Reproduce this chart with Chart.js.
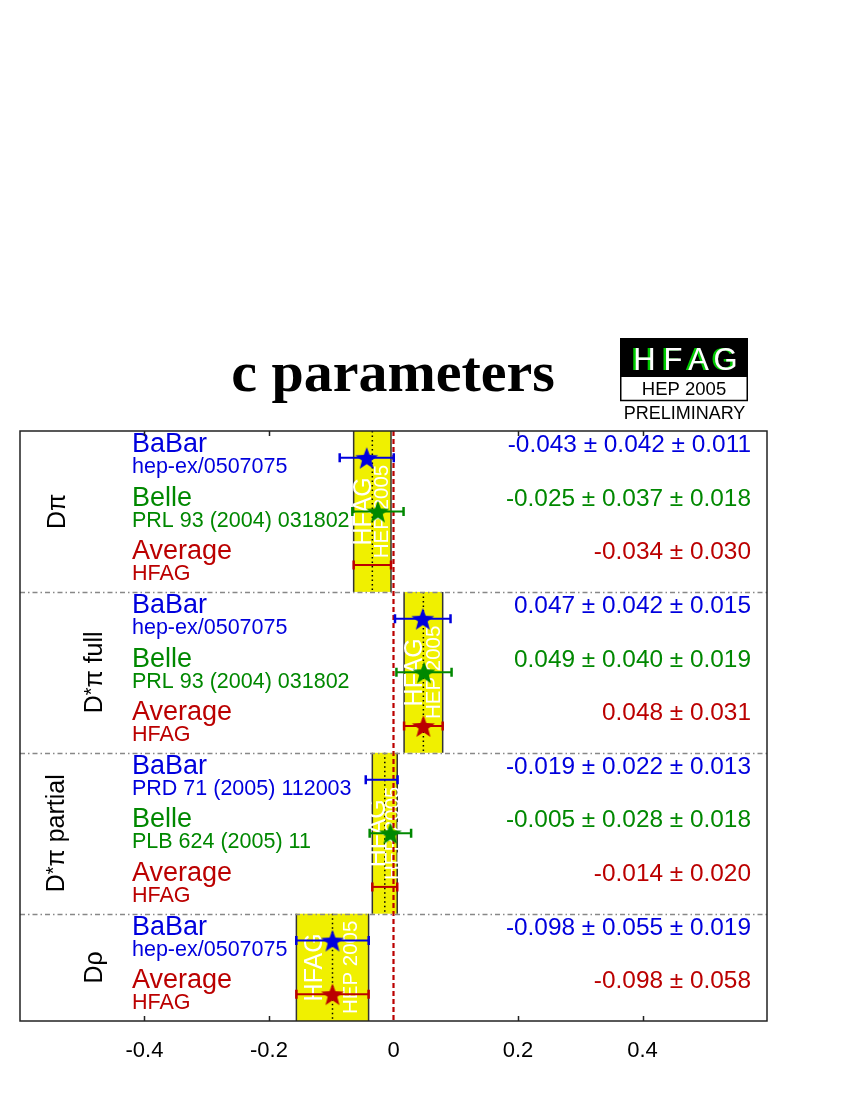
<!DOCTYPE html>
<html>
<head>
<meta charset="utf-8">
<script src="https://cdn.jsdelivr.net/npm/chart.js@4.4.1/dist/chart.umd.min.js"></script>
<style>
html,body{margin:0;padding:0;background:#fff;}
canvas{display:block;}
</style>
</head>
<body>
<canvas id="c" width="850" height="1100" style="width:850px;height:1100px"></canvas>
<script>
// ---------------- data ----------------
const sectionNames = ['Dπ', 'D*π full', 'D*π partial', 'Dρ'];
const sectionRows = [3, 3, 3, 2];
const rowLabels = ['BaBar', 'Belle', 'Average', 'BaBar', 'Belle', 'Average', 'BaBar', 'Belle', 'Average', 'BaBar', 'Average'];
const rowRefs = ['hep-ex/0507075', 'PRL 93 (2004) 031802', 'HFAG',
                 'hep-ex/0507075', 'PRL 93 (2004) 031802', 'HFAG',
                 'PRD 71 (2005) 112003', 'PLB 624 (2005) 11', 'HFAG',
                 'hep-ex/0507075', 'HFAG'];
const values  = [-0.043, -0.025, -0.034, 0.047, 0.049, 0.048, -0.019, -0.005, -0.014, -0.098, -0.098];
const statErr = [0.042, 0.037, 0.030, 0.042, 0.040, 0.031, 0.022, 0.028, 0.020, 0.055, 0.058];
const systErr = [0.011, 0.018, null, 0.015, 0.019, null, 0.013, 0.018, null, 0.019, null];
const xTicks = [-0.4, -0.2, 0, 0.2, 0.4];
const titleText = 'c parameters';

// ---------------- styles ----------------
const starShown = [true, true, false, true, true, true, false, true, false, true, true];
const colorOf = {BaBar: '#0000dd', Belle: '#008800', Average: '#bb0000'};
const SANS = '"Liberation Sans", Arial, Helvetica, sans-serif';

function makeStar(color, R) {
  const c = document.createElement('canvas');
  const s = Math.ceil(2 * R + 2);
  c.width = c.height = s;
  const g = c.getContext('2d');
  g.fillStyle = color;
  g.beginPath();
  for (let k = 0; k < 10; k++) {
    const r = (k % 2) ? R * 0.42 : R;
    const a = -Math.PI / 2 + k * Math.PI / 5;
    const px = s / 2 + r * Math.cos(a), py = s / 2 + r * Math.sin(a) + R * 0.1;
    if (k) g.lineTo(px, py); else g.moveTo(px, py);
  }
  g.closePath();
  g.fill();
  return c;
}
const blank = document.createElement('canvas'); blank.width = 1; blank.height = 1;

const datasets = ['BaBar', 'Belle', 'Average'].map(name => {
  const star = makeStar(colorOf[name], 12);
  return {
    label: name,
    data: rowLabels.map((l, i) => l === name ? {x: values[i], y: i + 0.5, row: i} : null).filter(Boolean),
    pointStyle: ctx => (ctx.raw && starShown[ctx.raw.row]) ? star : blank,
    pointRadius: 11,
    showLine: false
  };
});

function drawRotatedLabel(ctx, text, cx, cy, size) {
  const parts = [];
  for (const ch of text) {
    if (ch === '*') parts.push({t: '*', s: size * 0.8, dy: -size * 0.1});
    else {
      if (parts.length && parts[parts.length - 1].dy === 0) parts[parts.length - 1].t += ch;
      else parts.push({t: ch, s: size, dy: 0});
    }
  }
  ctx.save();
  ctx.translate(cx, cy);
  ctx.rotate(-Math.PI / 2);
  ctx.fillStyle = '#000';
  ctx.textBaseline = 'middle';
  ctx.textAlign = 'left';
  let w = 0;
  parts.forEach(p => { ctx.font = p.s + 'px ' + SANS; p.w = ctx.measureText(p.t).width; w += p.w; });
  let xx = -w / 2;
  parts.forEach(p => { ctx.font = p.s + 'px ' + SANS; ctx.fillText(p.t, xx, p.dy); xx += p.w; });
  ctx.restore();
}

const sectionLabelX = [58, 95, 57, 95];

const hfagPlugin = {
  id: 'hfag',
  beforeDatasetsDraw(chart) {
    const {ctx, chartArea: a, scales: {x, y}} = chart;
    ctx.save();
    ctx.beginPath();
    ctx.rect(a.left, a.top, a.right - a.left, a.bottom - a.top);
    ctx.clip();

    let start = 0;
    sectionRows.forEach((n, si) => {
      const avg = start + n - 1;
      const x0 = x.getPixelForValue(values[avg] - statErr[avg]);
      const x1 = x.getPixelForValue(values[avg] + statErr[avg]);
      const xc = x.getPixelForValue(values[avg]);
      const y0 = y.getPixelForValue(start), y1 = y.getPixelForValue(start + n);
      ctx.fillStyle = '#f0f000';
      ctx.fillRect(x0, y0, x1 - x0, y1 - y0);
      ctx.strokeStyle = '#333';
      ctx.lineWidth = 1.5;
      ctx.setLineDash([]);
      ctx.beginPath();
      ctx.moveTo(x0, y0); ctx.lineTo(x0, y1);
      ctx.moveTo(x1, y0); ctx.lineTo(x1, y1);
      ctx.stroke();
      ctx.strokeStyle = '#000';
      ctx.lineWidth = 1.5;
      ctx.setLineDash([1.5, 3]);
      ctx.beginPath();
      ctx.moveTo(xc, y0); ctx.lineTo(xc, y1);
      ctx.stroke();
      ctx.setLineDash([]);
      const w = x1 - x0;
      const off = Math.max(w / 4, 7.5);
      const yc = (y0 + y1) / 2;
      ctx.fillStyle = '#fff';
      ctx.textAlign = 'center';
      ctx.textBaseline = 'middle';
      ctx.save(); ctx.translate(xc - off, yc); ctx.rotate(-Math.PI / 2);
      ctx.font = '25px ' + SANS; ctx.fillText('HFAG', 0, 1); ctx.restore();
      ctx.save(); ctx.translate(xc + off, yc); ctx.rotate(-Math.PI / 2);
      ctx.font = '20.5px ' + SANS; ctx.fillText('HEP 2005', 0, 1); ctx.restore();
      start += n;
    });

    ctx.strokeStyle = '#888';
    ctx.lineWidth = 1.5;
    ctx.setLineDash([5, 3, 1.5, 3]);
    start = 0;
    sectionRows.slice(0, -1).forEach(n => {
      start += n;
      const yy = Math.round(y.getPixelForValue(start)) + 0.5;
      ctx.beginPath(); ctx.moveTo(a.left, yy); ctx.lineTo(a.right, yy); ctx.stroke();
    });
    ctx.setLineDash([]);

    const x0p = x.getPixelForValue(0);
    ctx.strokeStyle = '#bb0000';
    ctx.lineWidth = 2.2;
    ctx.setLineDash([5, 3]);
    ctx.beginPath(); ctx.moveTo(x0p, a.top); ctx.lineTo(x0p, a.bottom); ctx.stroke();
    ctx.setLineDash([]);

    rowLabels.forEach((l, i) => {
      const err = systErr[i] == null ? statErr[i] : Math.hypot(statErr[i], systErr[i]);
      const xl = x.getPixelForValue(values[i] - err), xr = x.getPixelForValue(values[i] + err);
      const yc = y.getPixelForValue(i + 0.5);
      ctx.strokeStyle = colorOf[l];
      ctx.lineWidth = 2;
      ctx.beginPath(); ctx.moveTo(xl, yc); ctx.lineTo(xr, yc); ctx.stroke();
      ctx.lineWidth = 2.5;
      ctx.beginPath();
      ctx.moveTo(xl, yc - 4.5); ctx.lineTo(xl, yc + 4.5);
      ctx.moveTo(xr, yc - 4.5); ctx.lineTo(xr, yc + 4.5);
      ctx.stroke();
    });
    ctx.restore();

    ctx.save();
    rowLabels.forEach((l, i) => {
      const top = y.getPixelForValue(i);
      ctx.fillStyle = colorOf[l];
      ctx.textBaseline = 'alphabetic';
      ctx.textAlign = 'left';
      ctx.font = '27px ' + SANS;
      ctx.fillText(l, 132, top + 21);
      ctx.font = '21.5px ' + SANS;
      ctx.fillText(rowRefs[i], 132, top + 42);
      let s = values[i].toFixed(3) + ' \u00b1 ' + statErr[i].toFixed(3);
      if (systErr[i] != null) s += ' \u00b1 ' + systErr[i].toFixed(3);
      ctx.textAlign = 'right';
      ctx.font = '24.4px ' + SANS;
      ctx.fillText(s, 751, top + 21);
    });
    start = 0;
    sectionRows.forEach((n, si) => {
      const yc = (y.getPixelForValue(start) + y.getPixelForValue(start + n)) / 2;
      drawRotatedLabel(ctx, sectionNames[si], sectionLabelX[si], yc, 25);
      start += n;
    });
    ctx.restore();
  },
  afterDatasetsDraw(chart) {
    const {ctx, chartArea: a, scales: {x}} = chart;
    ctx.save();
    ctx.strokeStyle = '#222';
    ctx.lineWidth = 1.5;
    ctx.strokeRect(a.left, a.top, a.right - a.left, a.bottom - a.top);
    ctx.beginPath();
    xTicks.forEach(v => {
      if (v === 0) return;
      const px = Math.round(x.getPixelForValue(v)) + 0.5;
      ctx.moveTo(px, a.bottom); ctx.lineTo(px, a.bottom - 5);
      ctx.moveTo(px, a.top); ctx.lineTo(px, a.top + 5);
    });
    ctx.stroke();
    ctx.restore();
  },
  afterDraw(chart) {
    const ctx = chart.ctx;
    ctx.save();
    ctx.fillStyle = '#000';
    ctx.font = 'bold 58px "Liberation Serif", "Times New Roman", serif';
    ctx.textAlign = 'center';
    ctx.textBaseline = 'alphabetic';
    ctx.fillText(titleText, 393, 391);
    ctx.fillStyle = '#000';
    ctx.fillRect(620, 338, 128, 39);
    ctx.fillStyle = '#fff';
    ctx.fillRect(621, 377, 126, 23.5);
    ctx.strokeStyle = '#000';
    ctx.lineWidth = 1.5;
    ctx.beginPath();
    ctx.moveTo(620.75, 377); ctx.lineTo(620.75, 400.5); ctx.lineTo(747.25, 400.5); ctx.lineTo(747.25, 377);
    ctx.stroke();
    ctx.font = '31px ' + SANS;
    ctx.textAlign = 'center';
    const letters = ['H', 'F', 'A', 'G'];
    const lx = [643.5, 672, 697.5, 724.5];
    letters.forEach((t, k) => {
      ctx.fillStyle = '#00cc00';
      ctx.fillText(t, lx[k] - 1.5, 370);
      ctx.fillStyle = '#fff';
      ctx.fillText(t, lx[k] + 1, 370);
    });
    ctx.fillStyle = '#000';
    ctx.font = '18.5px ' + SANS;
    ctx.fillText('HEP 2005', 684, 395);
    ctx.font = '18px ' + SANS;
    ctx.fillText('PRELIMINARY', 684.5, 419);
    ctx.restore();
  }
};

new Chart(document.getElementById('c').getContext('2d'), {
  type: 'scatter',
  data: {datasets},
  options: {
    responsive: false,
    animation: false,
    devicePixelRatio: 1,
    layout: {padding: {left: 20, right: 83, top: 431, bottom: 0}},
    plugins: {legend: {display: false}, tooltip: {enabled: false}},
    scales: {
      x: {
        type: 'linear',
        min: -0.6,
        max: 0.6,
        afterBuildTicks: s => { s.ticks = xTicks.map(v => ({value: v})); },
        afterFit: s => { s.height = 79; },
        grid: {display: false, drawTicks: false},
        border: {display: false},
        ticks: {
          font: {size: 22, family: SANS},
          color: '#000',
          padding: 17,
          maxRotation: 0,
          autoSkip: false,
          callback: v => String(Math.round(v * 10) / 10)
        }
      },
      y: {type: 'linear', min: 0, max: 11, reverse: true, display: false}
    }
  },
  plugins: [hfagPlugin]
});
</script>
</body>
</html>
